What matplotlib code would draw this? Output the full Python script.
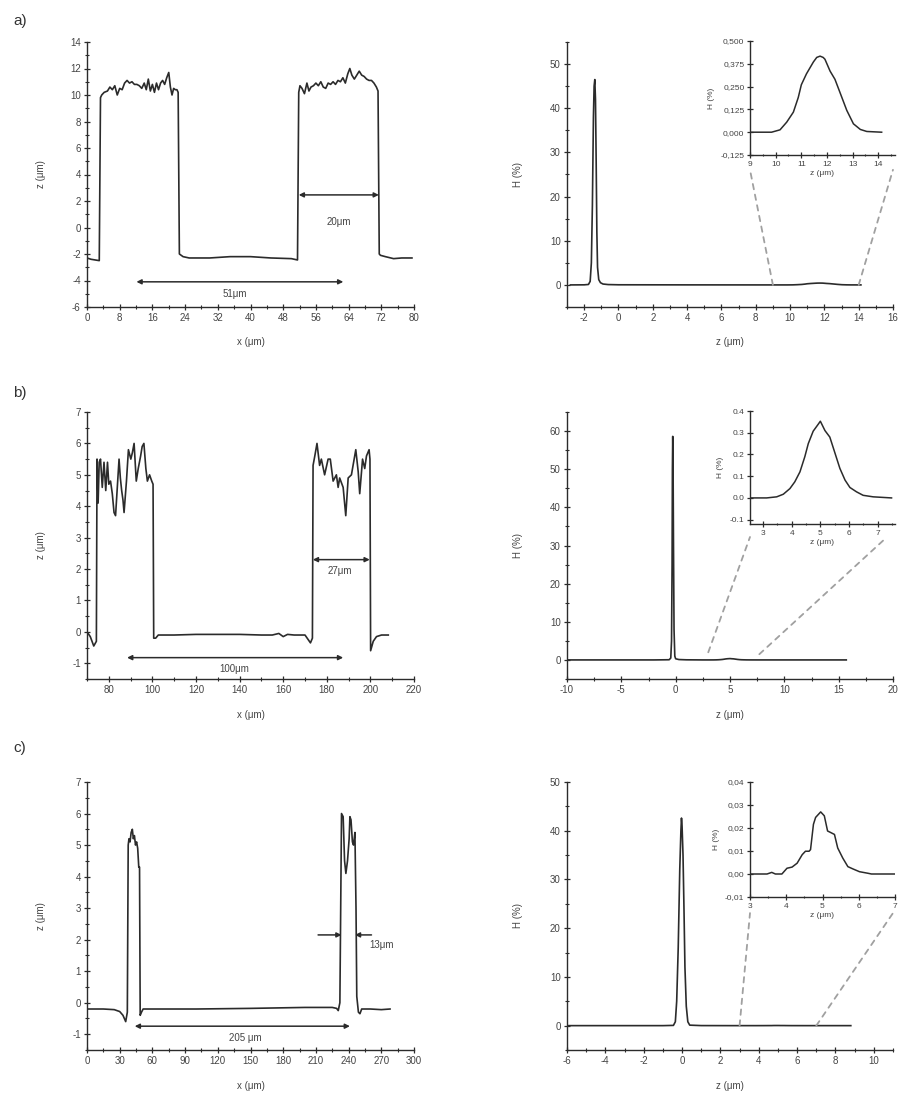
"""
Profiles (left) and height histograms (right) of three patterned samples,
with a zoomed inset on the small second peak of each histogram.
"""

import numpy as np
import matplotlib
matplotlib.use('Agg')
from matplotlib import pyplot
from matplotlib.patches import ConnectionPatch
from matplotlib.ticker import MultipleLocator, FuncFormatter

pyplot.rcParams['font.family'] = ['Liberation Sans', 'DejaVu Sans']
pyplot.rcParams['axes.unicode_minus'] = False

# --- profile data (x in um, z in um) ---
profile_a = [(0, -2.3), (1, -2.4), (2, -2.45), (3.0, -2.5), (3.3, 9.8), (3.6, 10.0),
             (4.2, 10.2), (5.0, 10.3), (5.6, 10.6), (6.2, 10.4), (6.8, 10.7),
             (7.4, 10.0), (8.0, 10.5), (8.6, 10.4), (9.2, 10.9), (9.8, 11.1),
             (10.4, 10.9), (11.0, 11.0), (11.6, 10.8), (12.2, 10.8), (12.8, 10.7),
             (13.4, 10.5), (14.0, 10.9), (14.5, 10.4), (15.0, 11.2), (15.5, 10.3),
             (16.0, 10.8), (16.5, 10.2), (17.0, 10.9), (17.5, 10.4), (18.0, 10.9),
             (18.5, 11.1), (19.0, 10.8), (19.5, 11.3), (20.0, 11.7), (20.4, 10.6),
             (20.8, 10.0), (21.2, 10.5), (21.6, 10.4), (22.0, 10.4), (22.3, 10.2),
             (22.6, -2.0), (23.5, -2.2), (25, -2.3), (30, -2.3), (35, -2.2),
             (40, -2.2), (45, -2.3), (50, -2.35), (51.5, -2.45), (51.8, 10.2),
             (52.1, 10.7), (52.6, 10.5), (53.2, 10.1), (53.8, 10.9), (54.3, 10.3),
             (54.8, 10.6), (55.4, 10.7), (56.0, 10.9), (56.6, 10.7), (57.2, 11.0),
             (57.8, 10.6), (58.4, 10.5), (59.0, 10.9), (59.6, 10.8), (60.2, 11.0),
             (60.8, 10.8), (61.4, 11.1), (62.0, 11.0), (62.6, 11.3), (63.2, 10.9),
             (63.8, 11.6), (64.3, 12.0), (64.8, 11.5), (65.4, 11.2), (66.0, 11.5),
             (66.6, 11.8), (67.2, 11.5), (67.8, 11.4), (68.4, 11.2), (69.0, 11.1),
             (69.6, 11.1), (70.2, 10.9), (70.8, 10.6), (71.2, 10.3), (71.5, -2.0),
             (71.8, -2.1), (73, -2.2), (75, -2.35), (77, -2.3), (79.5, -2.3)]

profile_b = [(70, 0.0), (71.5, -0.15), (73.1, -0.45), (74.3, -0.3), (74.6, 5.5),
             (75.1, 4.1), (75.6, 5.4), (76.2, 5.5), (77.0, 4.6), (77.8, 5.4),
             (78.6, 4.5), (79.4, 5.4), (80.0, 4.7), (80.8, 4.8), (81.6, 4.4),
             (82.4, 3.8), (83.1, 3.7), (83.9, 4.6), (84.7, 5.5), (85.3, 4.9),
             (85.9, 4.5), (86.5, 4.2), (87.0, 3.8), (88.1, 4.8), (89.0, 5.8),
             (90.1, 5.5), (90.8, 5.7), (91.6, 6.0), (92.6, 4.8), (93.5, 5.2),
             (94.6, 5.6), (95.3, 5.9), (96.1, 6.0), (97.0, 5.2), (97.7, 4.8),
             (98.7, 5.0), (99.7, 4.8), (100.3, 4.7), (100.6, -0.2), (101.5, -0.2),
             (102.7, -0.1), (110, -0.1), (120, -0.08), (130, -0.08), (140, -0.08),
             (150, -0.1), (155, -0.1), (158, -0.05), (160, -0.15), (162, -0.08),
             (165, -0.1), (170, -0.1), (172.5, -0.35), (173.4, -0.2), (173.7, 5.3),
             (174.5, 5.6), (175.5, 6.0), (176.7, 5.3), (177.5, 5.5), (179, 5.0),
             (180.6, 5.5), (181.6, 5.5), (182.9, 4.8), (184.4, 5.0), (185.2, 4.6),
             (185.9, 4.9), (187.5, 4.6), (188.7, 3.7), (189.8, 4.9), (191.3, 5.0),
             (193.3, 5.8), (194.4, 5.1), (195.1, 4.4), (196.4, 5.5), (197.4, 5.2),
             (198.2, 5.6), (199.4, 5.8), (199.8, 5.5), (200.1, -0.6), (201.3, -0.3),
             (202.8, -0.15), (205.1, -0.1), (208.2, -0.1)]

profile_c = [(0, -0.2), (15, -0.2), (25, -0.22), (30, -0.28), (33, -0.4), (35.5, -0.6),
             (37, -0.3), (37.8, 5.0), (38.5, 5.2), (39.5, 5.1), (40.5, 5.4),
             (41.6, 5.5), (42.5, 5.2), (43.5, 5.3), (44.5, 5.0), (45.5, 5.1),
             (46.5, 4.9), (47.5, 4.3), (48.2, 4.3), (48.8, -0.4), (50, -0.3),
             (51.5, -0.2), (60, -0.2), (100, -0.2), (150, -0.18), (200, -0.15),
             (225, -0.15), (229, -0.18), (230.5, -0.25), (232, 0.0), (233.5, 6.0),
             (235.0, 5.9), (236.3, 4.5), (237.5, 4.1), (239.0, 4.5), (240.5, 5.2),
             (241.2, 5.9), (242.2, 5.8), (243.5, 5.1), (244.5, 5.0), (245.8, 5.4),
             (246.8, 3.0), (247.5, 0.2), (249, -0.3), (250.4, -0.35), (252, -0.2),
             (260, -0.2), (270, -0.22), (278, -0.2)]

# --- histogram data (z in um, H in %) ---
hist_peak_a = [(-2.8, 0), (-2.0, 0.02), (-1.75, 0.1), (-1.65, 0.8), (-1.58, 5),
               (-1.52, 18), (-1.46, 38), (-1.42, 45), (-1.38, 46.5), (-1.34, 42),
               (-1.30, 28), (-1.26, 12), (-1.22, 4), (-1.15, 1.2), (-1.05, 0.5),
               (-0.9, 0.2), (-0.6, 0.08), (0.0, 0.03), (4.0, 0.01), (8.0, 0)]
hist_bump_a = [(9.0, 0), (9.84, 0.0), (10.17, 0.013), (10.43, 0.055), (10.69, 0.11),
               (10.88, 0.19), (11.0, 0.26), (11.2, 0.32), (11.47, 0.385),
               (11.6, 0.41), (11.73, 0.417), (11.85, 0.41), (11.92, 0.4),
               (12.12, 0.335), (12.31, 0.29), (12.5, 0.22), (12.77, 0.12),
               (13.03, 0.046), (13.3, 0.015), (13.55, 0.004), (14.13, 0)]

hist_peak_b = [(-10, 0), (-2, 0), (-0.6, 0.05), (-0.45, 0.5), (-0.38, 5), (-0.33, 25),
               (-0.30, 50), (-0.27, 58.6), (-0.24, 52), (-0.20, 30), (-0.15, 8),
               (-0.08, 1.0), (0.0, 0.3), (0.3, 0.1), (1.0, 0.03), (2.5, 0)]
hist_bump_b = [(2.55, 0), (3.13, 0.0), (3.48, 0.005), (3.71, 0.017), (3.94, 0.043),
               (4.11, 0.074), (4.29, 0.12), (4.46, 0.19), (4.58, 0.25), (4.75, 0.307),
               (4.92, 0.338), (5.0, 0.353), (5.16, 0.31), (5.33, 0.28), (5.51, 0.206),
               (5.68, 0.136), (5.86, 0.082), (6.03, 0.048), (6.26, 0.028),
               (6.49, 0.012), (6.84, 0.005), (7.48, 0)]
hist_tail_b = [(10, 0), (15.7, 0)]

hist_peak_c = [(-6, 0), (-1, 0), (-0.45, 0.05), (-0.35, 0.8), (-0.28, 5), (-0.2, 16),
               (-0.12, 32), (-0.06, 40), (-0.03, 42.6), (0.0, 41), (0.05, 35),
               (0.1, 24), (0.15, 12), (0.22, 4), (0.3, 0.8), (0.4, 0.1), (1, 0.01),
               (2.5, 0)]
hist_bump_c = [(3.0, 0.0), (3.47, 0.0), (3.6, 0.0007), (3.7, 0.0), (3.88, 0.0),
               (4.02, 0.0025), (4.16, 0.003), (4.3, 0.0047), (4.44, 0.0084),
               (4.53, 0.0099), (4.63, 0.0099), (4.67, 0.0106), (4.75, 0.0216),
               (4.81, 0.0246), (4.95, 0.027), (5.05, 0.0253), (5.14, 0.0187),
               (5.23, 0.018), (5.33, 0.0172), (5.42, 0.0113), (5.56, 0.0069),
               (5.7, 0.0032), (5.84, 0.0022), (6.02, 0.001), (6.26, 0.0003),
               (6.35, 0.0), (7.0, 0.0)]
hist_tail_c = [(8.8, 0)]

LINE = '#2b2b2b'
TEXT = '#444444'
DASH = '#a0a0a0'
W, H = 901.0, 1095.0


def rect(left, right, top, bottom):
    """pixel box -> figure fraction [l, b, w, h]"""
    return [left / W, 1 - bottom / H, (right - left) / W, (bottom - top) / H]


def style(ax, fs=7):
    for side in ('top', 'right'):
        ax.spines[side].set_visible(False)
    for side in ('left', 'bottom'):
        ax.spines[side].set_color(LINE)
        ax.spines[side].set_linewidth(1.0)
    ax.tick_params(which='major', direction='inout', length=5, width=0.9,
                   colors=LINE, labelcolor=TEXT, labelsize=fs, pad=2)
    ax.tick_params(which='minor', direction='inout', length=3, width=0.8,
                   colors=LINE)


def xy(pairs):
    arr = np.array(pairs, dtype=float)
    return arr[:, 0], arr[:, 1]


def comma(fmt):
    return FuncFormatter(lambda v, pos: (fmt % v).replace('.', ','))


fig = pyplot.figure(figsize=(9.01, 10.95), dpi=100)

# ---------------- profiles ----------------
profiles = [
    dict(data=profile_a, box=(87, 414, 42, 307), xlim=(0, 80), ylim=(-6, 14),
         xmaj=8, xmin=4, ymaj=2, ymin=1),
    dict(data=profile_b, box=(87, 414, 412, 679), xlim=(70, 220), ylim=(-1.5, 7),
         xmaj=20, xmin=10, ymaj=1, ymin=0.5),
    dict(data=profile_c, box=(87, 414, 782, 1050), xlim=(0, 300), ylim=(-1.5, 7),
         xmaj=30, xmin=15, ymaj=1, ymin=0.5),
]
prof_axes = []
for p in profiles:
    ax = fig.add_axes(rect(*p['box']))
    x, z = xy(p['data'])
    ax.plot(x, z, color=LINE, linewidth=1.2)
    ax.set_xlim(*p['xlim'])
    ax.set_ylim(*p['ylim'])
    ax.xaxis.set_major_locator(MultipleLocator(p['xmaj']))
    ax.xaxis.set_minor_locator(MultipleLocator(p['xmin']))
    ax.yaxis.set_major_locator(MultipleLocator(p['ymaj']))
    ax.yaxis.set_minor_locator(MultipleLocator(p['ymin']))
    ax.yaxis.set_major_formatter(FuncFormatter(lambda v, pos: '%g' % v))
    style(ax)
    ax.set_xlabel('x (\u03bcm)', fontsize=7, color=TEXT)
    ax.set_ylabel('z (\u03bcm)', fontsize=7, color=TEXT)
    ax.xaxis.set_label_coords(0.5, -0.115)
    ax.yaxis.set_label_coords(-0.125, 0.5)
    prof_axes.append(ax)

# profile b and c: hide the half-step tick labels on y
for ax in prof_axes[1:]:
    ax.set_yticks([-1, 0, 1, 2, 3, 4, 5, 6, 7])
ax_a, ax_b, ax_c = prof_axes
ax_b.set_xticks([80, 100, 120, 140, 160, 180, 200, 220])


def span(ax, x1, x2, y, style='<|-|>'):
    ax.annotate('', xy=(x2, y), xytext=(x1, y),
                arrowprops=dict(arrowstyle=style, color=LINE, lw=1.1,
                                mutation_scale=7, shrinkA=0, shrinkB=0))


span(ax_a, 12.1, 62.7, -4.1)
ax_a.text(36.2, -5.0, '51\u03bcm', fontsize=7, color=TEXT, ha='center', va='center')
span(ax_a, 51.8, 71.4, 2.46)
ax_a.text(61.5, 0.45, '20\u03bcm', fontsize=7, color=TEXT, ha='center', va='center')

span(ax_b, 88.4, 187.5, -0.82)
ax_b.text(137.6, -1.19, '100\u03bcm', fontsize=7, color=TEXT, ha='center', va='center')
span(ax_b, 173.6, 199.7, 2.3)
ax_b.text(185.9, 1.95, '27\u03bcm', fontsize=7, color=TEXT, ha='center', va='center')

span(ax_c, 43.8, 241.2, -0.745)
ax_c.text(144.8, -1.12, '205 \u03bcm', fontsize=7, color=TEXT, ha='center', va='center')
span(ax_c, 212, 233.5, 2.15, style='-|>')
span(ax_c, 261, 245.8, 2.15, style='-|>')
ax_c.text(270.3, 1.84, '13\u03bcm', fontsize=7, color=TEXT, ha='center', va='center')

# ---------------- histograms ----------------
hists = [
    dict(parts=[hist_peak_a, hist_bump_a], box=(567, 893, 42, 307), xlim=(-3, 16),
         ylim=(-5, 55), xticks=np.arange(-2, 17, 2), xmin=1, ymaj=10, ymin=5,
         ibox=(750, 895, 41, 155), ixlim=(9, 14.65), iylim=(-0.125, 0.5),
         ixmaj=1, ixmin=0.5, iymaj=0.125, ifmt=comma('%.3f'),
         link=((9, 0), (14, 0)), ends=((0.0, -0.13), (0.986, -0.13))),
    dict(parts=[hist_peak_b, hist_bump_b, hist_tail_b], box=(567, 893, 412, 679),
         xlim=(-10, 20), ylim=(-5, 65), xticks=np.arange(-10, 21, 5), xmin=2.5,
         ymaj=10, ymin=5,
         ibox=(750, 895, 411, 524), ixlim=(2.55, 7.6), iylim=(-0.12, 0.4),
         ixmaj=1, ixmin=0.5, iymaj=0.1, ifmt=FuncFormatter(lambda v, pos: '%.1f' % v),
         link=((3, 2), (7.7, 1.5)), ends=((0.0, -0.115), (0.945, -0.115))),
    dict(parts=[hist_peak_c, hist_bump_c, hist_tail_c], box=(567, 893, 782, 1050),
         xlim=(-6, 11), ylim=(-5, 50), xticks=np.arange(-6, 11, 2), xmin=1,
         ymaj=10, ymin=5,
         ibox=(750, 895, 782, 897), ixlim=(3, 7), iylim=(-0.01, 0.04),
         ixmaj=1, ixmin=0.5, iymaj=0.01, ifmt=comma('%.2f'),
         link=((3, 0), (7, 0)), ends=((0.0, -0.14), (0.986, -0.14))),
]
for h in hists:
    ax = fig.add_axes(rect(*h['box']))
    z, hh = xy(sum(h['parts'], []))
    ax.plot(z, hh, color=LINE, linewidth=1.2)
    ax.set_xlim(*h['xlim'])
    ax.set_ylim(*h['ylim'])
    ax.set_xticks(h['xticks'])
    ax.xaxis.set_minor_locator(MultipleLocator(h['xmin']))
    ax.yaxis.set_major_locator(MultipleLocator(h['ymaj']))
    ax.yaxis.set_minor_locator(MultipleLocator(h['ymin']))
    ax.set_yticks(np.arange(0, h['ylim'][1] + 0.1, h['ymaj']))
    ax.set_ylim(*h['ylim'])
    style(ax)
    ax.set_xlabel('z (\u03bcm)', fontsize=7, color=TEXT)
    ax.set_ylabel('H (%)', fontsize=7, color=TEXT)
    ax.xaxis.set_label_coords(0.5, -0.115)
    ax.yaxis.set_label_coords(-0.135, 0.5)

    # inset on the small peak
    ins = fig.add_axes(rect(*h['ibox']))
    zi, hi = xy(h['parts'][1])
    ins.plot(zi, hi, color=LINE, linewidth=1.1)
    ins.set_xlim(*h['ixlim'])
    ins.set_ylim(*h['iylim'])
    ins.xaxis.set_major_locator(MultipleLocator(h['ixmaj']))
    ins.xaxis.set_minor_locator(MultipleLocator(h['ixmin']))
    ins.yaxis.set_major_locator(MultipleLocator(h['iymaj']))
    ins.yaxis.set_major_formatter(h['ifmt'])
    ins.set_ylim(*h['iylim'])
    style(ins, fs=6)
    ins.tick_params(which='major', length=4)
    ins.tick_params(which='minor', length=2)
    ins.set_xlabel('z (\u03bcm)', fontsize=6, color=TEXT, labelpad=2)
    ins.set_ylabel('H (%)', fontsize=6, color=TEXT, labelpad=4)

    for (pa, pb) in zip(h['link'], h['ends']):
        con = ConnectionPatch(xyA=pa, coordsA='data', axesA=ax,
                              xyB=pb, coordsB='axes fraction', axesB=ins,
                              color=DASH, linewidth=1.3, linestyle=(0, (3, 3)))
        fig.add_artist(con)

# panel letters
for label, ypix in (('a)', 21), ('b)', 393), ('c)', 748)):
    fig.text(20 / W, 1 - ypix / H, label, fontsize=11, color='#333333',
             ha='center', va='center')

fig.savefig('out.png', dpi=100, facecolor='white')
